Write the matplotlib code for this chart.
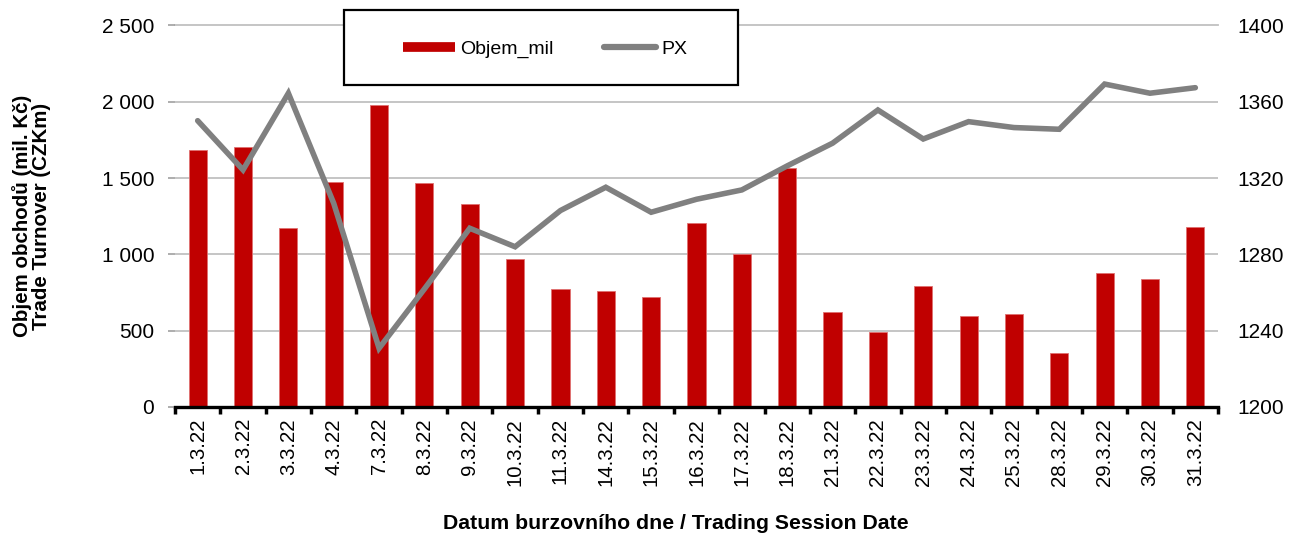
import matplotlib
matplotlib.use("Agg")
import matplotlib.pyplot as plt
from matplotlib.lines import Line2D
from matplotlib.patches import Rectangle
from matplotlib.ticker import FuncFormatter, MultipleLocator, FixedLocator

plt.rcParams['font.family'] = ['Liberation Sans', 'DejaVu Sans']

dates = ["1.3.22", "2.3.22", "3.3.22", "4.3.22", "7.3.22", "8.3.22", "9.3.22",
         "10.3.22", "11.3.22", "14.3.22", "15.3.22", "16.3.22", "17.3.22",
         "18.3.22", "21.3.22", "22.3.22", "23.3.22", "24.3.22", "25.3.22",
         "28.3.22", "29.3.22", "30.3.22", "31.3.22"]
objem_mil = [1684, 1706, 1171, 1474, 1981, 1466, 1330, 972, 775, 758, 719,
             1206, 1005, 1568, 620, 491, 795, 594, 607, 354, 876, 837, 1180]
px = [1350.1, 1324.3, 1364.5, 1306.8, 1230.8, 1261.9, 1293.7, 1284.0, 1303.0,
      1315.2, 1302.1, 1308.9, 1313.8, 1326.4, 1338.3, 1355.7, 1340.5, 1349.6,
      1346.5, 1345.6, 1369.3, 1364.5, 1367.4]

RED = "#C00000"
GRAY = "#808080"
GRID = "#c0c0c0"

fig = plt.figure(figsize=(12.94, 5.36), dpi=100)
ax = fig.add_axes([175/1294, 1-407/536, (1218-175)/1294, (407-25.5)/536])
x = list(range(len(dates)))

ax.bar(x, objem_mil, width=0.4, color=RED, edgecolor="#e07070", linewidth=0.6, zorder=2)
ax.set_xlim(-0.5, len(dates) - 0.5)
ax.set_ylim(0, 2500)
ax.yaxis.set_major_locator(MultipleLocator(500))
ax.yaxis.set_major_formatter(FuncFormatter(lambda v, p: f"{int(v):,}".replace(",", " ")))
ax.grid(axis='y', color=GRID, linewidth=1.3, zorder=0)
ax.axhline(2500, color=GRID, linewidth=1.3, zorder=0, clip_on=False)
ax.set_axisbelow(True)
for s in ['top', 'right', 'left']:
    ax.spines[s].set_visible(False)
ax.spines['bottom'].set_linewidth(2.4)
ax.spines['bottom'].set_color('black')
ax.spines['bottom'].set_zorder(5)

ax.set_xticks(x)
ax.set_xticklabels(dates, rotation=90, fontsize=14.7)
ax.tick_params(axis='x', which='major', length=0, pad=8)
ax.xaxis.set_minor_locator(FixedLocator([i - 0.5 for i in range(len(dates) + 1)]))
ax.tick_params(axis='x', which='minor', length=5, width=2.5, color='black', direction='out')
ax.tick_params(axis='y', length=5, width=1.2, color="#a0a0a0", labelsize=15, pad=10)

ax.set_xlabel("Datum burzovního dne / Trading Session Date", fontsize=15.3,
              fontweight='bold')
ax.xaxis.set_label_coords((675.5 - 175) / 1043, (407 - 514) / 381.5)
ax.set_ylabel("Objem obchodů (mil. Kč)\nTrade Turnover (CZKm)", fontsize=14.8,
              fontweight='bold', linespacing=1.0)
ax.yaxis.set_label_coords((51 - 175) / 1043, (407 - 216) / 381.5)

ax2 = ax.twinx()
ax2.plot(x, px, color=GRAY, linewidth=4.0, solid_capstyle='round',
         solid_joinstyle='miter', zorder=3)
ax2.set_ylim(1200, 1400)
ax2.yaxis.set_major_locator(MultipleLocator(40))
for s in ['top', 'right', 'left', 'bottom']:
    ax2.spines[s].set_visible(False)
ax2.tick_params(axis='y', length=0, labelsize=15, pad=14)

# legend box
fig.patches.append(Rectangle((344/1294, 1-85/536), 394/1294, 75/536,
                             transform=fig.transFigure, facecolor='white',
                             edgecolor='black', linewidth=1.6, zorder=4))
handles = [Line2D([0], [0], color=RED, linewidth=7, solid_capstyle='butt'),
           Line2D([0], [0], color=GRAY, linewidth=4.5, solid_capstyle='round')]
fig.legend(handles, ["Objem_mil", "PX"], loc='center',
           bbox_to_anchor=(545/1294, 1-49/536), ncol=2, frameon=False,
           fontsize=14, handlelength=2.7, handletextpad=0.25, columnspacing=2.6)

fig.savefig("out.png", dpi=100)
